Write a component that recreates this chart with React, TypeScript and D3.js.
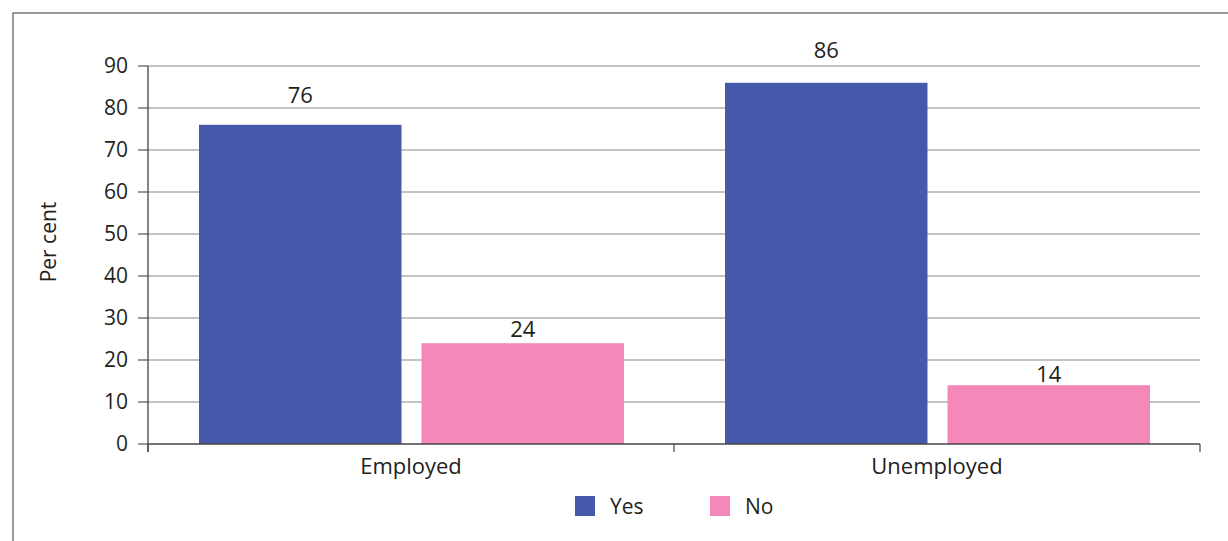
import React from "react";
import * as d3 from "d3";

const categories = ["Employed", "Unemployed"];
const seriesNames = ["Yes", "No"];
const yesValues = [76, 86];
const noValues = [24, 14];
const yTicks = [0, 10, 20, 30, 40, 50, 60, 70, 80, 90];
const colors = ["#4558A9", "#F488B8"];

export default function App() {
  const W = 1228, H = 541;
  const left = 148, right = 1200, top = 66, bottom = 444;
  const x = d3.scaleBand().domain(categories).range([left, right]).paddingInner(0).paddingOuter(0);
  const inner = d3.scaleBand().domain(seriesNames).range([51, x.bandwidth() - 50]).paddingInner(0.09);
  const y = d3.scaleLinear().domain([0, 90]).range([bottom, top]);
  const yLabel = d3.scaleLinear().domain([0, 90]).range([445, 40]);
  const values = [yesValues, noValues];
  const font = "'Open Sans', 'DejaVu Sans', sans-serif";
  const textColor = "#231f20";
  return (
    <svg width={W} height={H} style={{ position: "absolute", left: 0, top: 0 }} fontFamily={font}>
      <rect x={0} y={0} width={W} height={H} fill="#fff" />
      <rect x={13} y={13} width={W + 20} height={H + 20} fill="none" stroke="#555" strokeWidth={1.2} />
      {yTicks.map((t) => (
        <g key={t}>
          {t > 0 && <line x1={left} x2={right} y1={y(t)} y2={y(t)} stroke="#888" strokeWidth={1.2} />}
          <line x1={left - 10} x2={left} y1={y(t)} y2={y(t)} stroke="#555" strokeWidth={1.2} />
          <text x={128} y={y(t)} dy="0.35em" textAnchor="end" fontSize={21} fill={textColor}>{t}</text>
        </g>
      ))}
      {categories.map((c, ci) =>
        seriesNames.map((s, si) => {
          const v = values[si][ci];
          const bx = (x(c) as number) + (inner(s) as number);
          return (
            <g key={c + s}>
              <rect x={bx} y={y(v)} width={inner.bandwidth()} height={bottom - y(v)} fill={colors[si]} />
              <text x={bx + inner.bandwidth() / 2} y={yLabel(v)} textAnchor="middle" fontSize={22} fill={textColor}>{v}</text>
            </g>
          );
        })
      )}
      <line x1={left} x2={left} y1={top} y2={bottom + 8} stroke="#444" strokeWidth={1.3} />
      <line x1={left} x2={right} y1={bottom} y2={bottom} stroke="#444" strokeWidth={1.5} />
      {[left, left + x.bandwidth(), right].map((tx) => (
        <line key={tx} x1={tx} x2={tx} y1={bottom} y2={bottom + 8} stroke="#444" strokeWidth={1.2} />
      ))}
      {categories.map((c) => (
        <text key={c} x={(x(c) as number) + x.bandwidth() / 2} y={474} textAnchor="middle" fontSize={22} fill={textColor}>{c}</text>
      ))}
      <text transform={`translate(56,242) rotate(-90)`} textAnchor="middle" fontSize={21} fill={textColor}>Per cent</text>
      {seriesNames.map((s, i) => (
        <g key={s} transform={`translate(575,496) translate(${i * 135},0)`}>
          <rect x={0} y={0} width={20} height={20} fill={colors[i]} />
          <text x={35} y={18} fontSize={21} fill={textColor}>{s}</text>
        </g>
      ))}
    </svg>
  );
}
